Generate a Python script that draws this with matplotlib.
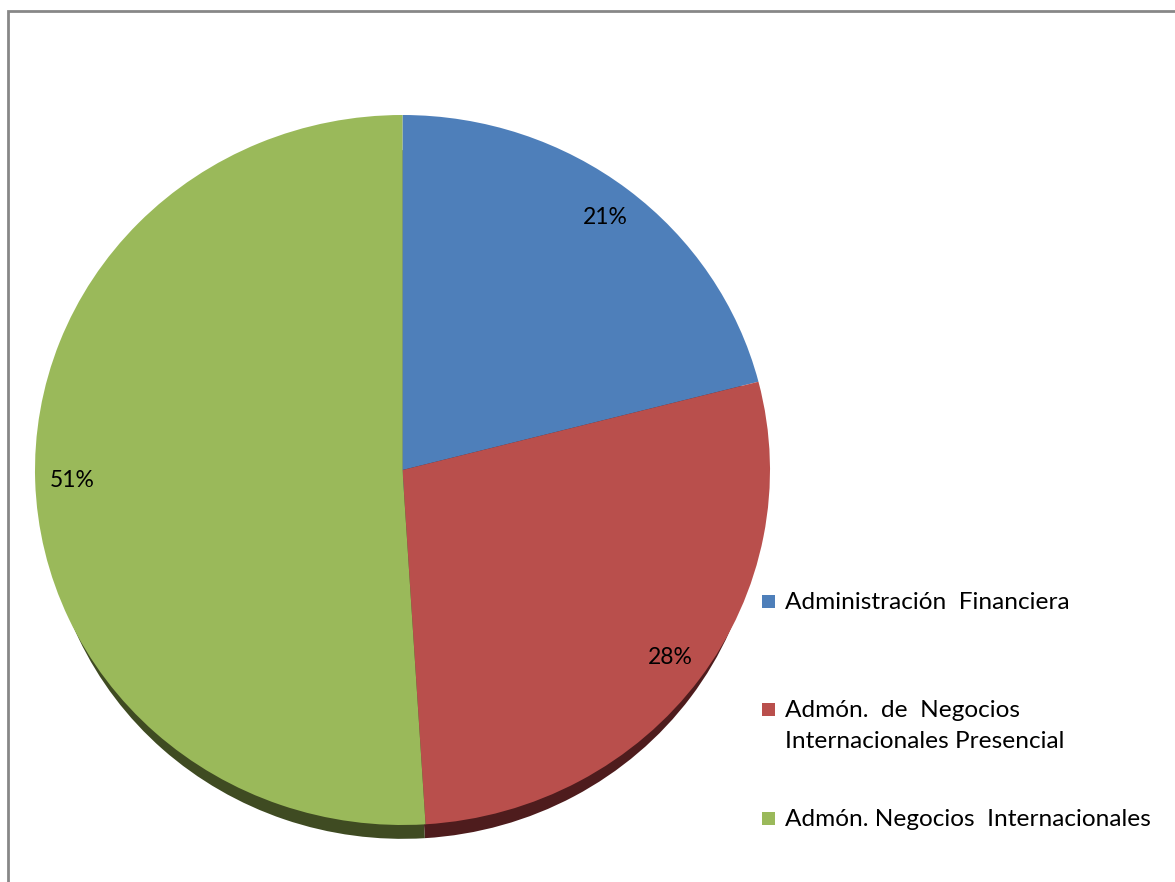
import matplotlib
matplotlib.use("Agg")
import matplotlib.pyplot as plt
from matplotlib.patches import Rectangle

# data
labels = ["Administración  Financiera",
          "Admón.  de  Negocios\nInternacionales Presencial",
          "Admón. Negocios  Internacionales"]
values = [21, 28, 51]
face_colors = ["#4E7FBA", "#B94F4C", "#9AB95A"]
shadow_colors = ["#24395A", "#4E1C1D", "#3F4B22"]

plt.rcParams['font.family'] = ['Lato', 'DejaVu Sans']

W, H = 1175, 882
fig = plt.figure(figsize=(W / 100, H / 100), dpi=100)

# chart border (runs off the right/bottom edge like the original)
fig.patches.append(Rectangle((8 / W, -0.05), 1.1, 1 - 11 / H + 0.05,
                             transform=fig.transFigure, fill=False,
                             edgecolor="#878787", linewidth=2))

# pie occupies an ellipse 735 x 710 px
ax = fig.add_axes([35 / W, (H - 825) / H, 735 / W, 710 / H])

# 3d-ish side: slightly smaller dark pie pushed down
ax.pie(values, colors=shadow_colors, startangle=90, counterclock=False,
       radius=0.97, center=(0, -0.069),
       wedgeprops={'clip_on': False, 'linewidth': 0})
ax.pie(values, colors=face_colors, startangle=90, counterclock=False,
       autopct='%1.0f%%', pctdistance=0.9,
       wedgeprops={'clip_on': False, 'linewidth': 0},
       textprops={'fontsize': 16.5, 'color': 'black'})
ax.set_aspect('auto')
ax.set_xlim(-1, 1)
ax.set_ylim(-1, 1)
ax.axis('off')

# legend drawn by hand to match spacing
legend_y = [601, 709, 818]
for lab, col, y in zip(labels, face_colors, legend_y):
    fig.patches.append(Rectangle((762 / W, 1 - (y + 7) / H), 13 / W, 13 / H,
                                 transform=fig.transFigure,
                                 facecolor=col, edgecolor='none'))
    fig.text(785 / W, 1 - (y - 9) / H, lab, fontsize=17.6, va='top',
             ha='left', linespacing=1.6)

fig.savefig("out.png", dpi=100)
